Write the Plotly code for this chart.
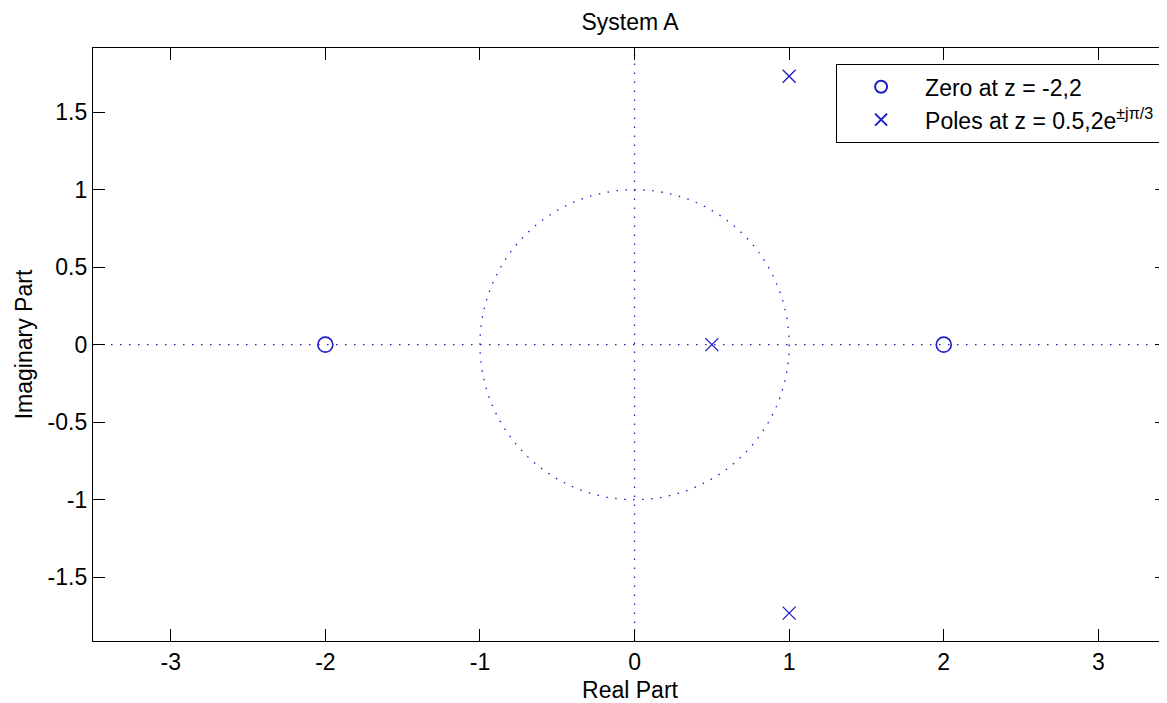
import plotly.graph_objects as go

zero_re = [-2, 2]
zero_im = [0, 0]
pole_re = [0.5, 1, 1]
pole_im = [0, 1.732, -1.732]
x_ticks = [-3, -2, -1, 0, 1, 2, 3]
y_ticks = [-1.5, -1, -0.5, 0, 0.5, 1, 1.5]
y_tick_text = ["-1.5", "-1", "-0.5", "0", "0.5", "1", "1.5"]

BLUE = "#1c1cc8"
FONT = "Liberation Sans, Arial, sans-serif"
FS = 23

fig = go.Figure()
fig.add_trace(go.Scatter(
    x=zero_re, y=zero_im, mode="markers", name="Zero at z = -2,2",
    marker=dict(symbol="circle-open", size=15, color=BLUE, line=dict(width=1.6, color=BLUE)),
))
fig.add_trace(go.Scatter(
    x=pole_re, y=pole_im, mode="markers", name="Poles at z = 0.5,2e<sup>\u00b1j\u03c0/3</sup>",
    marker=dict(symbol="x-thin-open", size=13, color=BLUE, line=dict(width=1.3, color=BLUE)),
))

dot = dict(color=BLUE, width=1.3, dash="1.5px,7.5px")
fig.add_shape(type="circle", xref="x", yref="y", x0=-1, y0=-1, x1=1, y1=1, line=dot, layer="below")
fig.add_shape(type="line", xref="x", yref="paper", x0=0, x1=0, y0=0, y1=1, line=dot, layer="below")
fig.add_shape(type="line", xref="paper", yref="y", x0=0, x1=1, y0=0, y1=0, line=dot, layer="below")

axis_common = dict(
    showgrid=False, zeroline=False, showline=True, linecolor="black", linewidth=1.3,
    mirror="ticks", ticks="inside", ticklen=12, tickcolor="black", tickwidth=1.3,
    tickfont=dict(family=FONT, size=FS, color="black"),
)

fig.update_layout(
    width=1159, height=695,
    margin=dict(l=85, r=0, t=40, b=62),
    paper_bgcolor="white", plot_bgcolor="white",
    font=dict(family=FONT, size=FS, color="black"),
    title=dict(text="System A", x=0.5, xref="paper", xanchor="center", y=0.98, yanchor="middle",
               font=dict(family=FONT, size=FS, color="black")),
    xaxis=dict(range=[-3.503, 3.444], tickvals=x_ticks, ticktext=[str(v) for v in x_ticks],
               title=dict(text="Real Part", standoff=10, font=dict(family=FONT, size=FS)),
               **axis_common),
    yaxis=dict(range=[-1.912, 1.914], tickvals=y_ticks, ticktext=y_tick_text,
               title=dict(text="Imaginary Part", standoff=8, font=dict(family=FONT, size=FS)),
               **axis_common),
    legend=dict(x=0.9933, xanchor="right", y=0.973, yanchor="top",
                bgcolor="white", bordercolor="black", borderwidth=1.3,
                font=dict(family=FONT, size=FS, color="black"),
                tracegroupgap=0, itemsizing="constant", itemwidth=78),
    showlegend=True,
)

fig.write_html("out.html")
